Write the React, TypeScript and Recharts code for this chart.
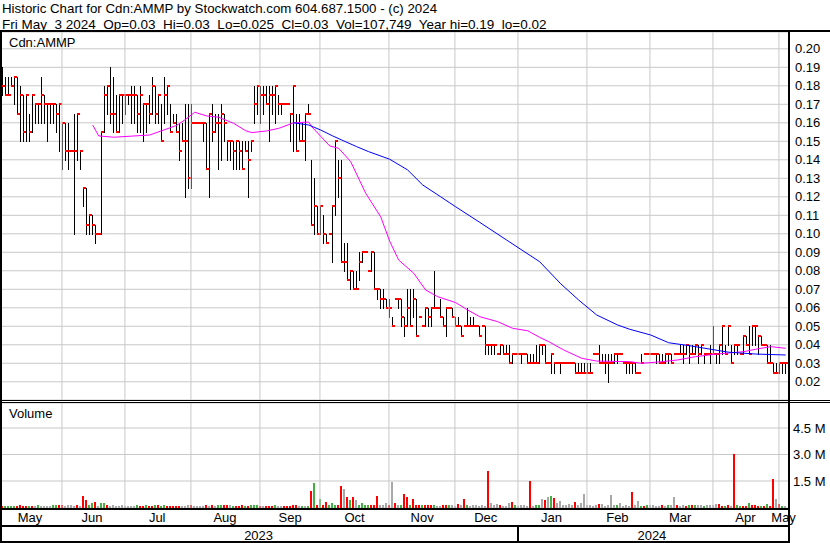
import React from 'react';
import { ComposedChart, Bar, Line, XAxis, YAxis, CartesianGrid, ReferenceLine } from 'recharts';

const FONT = '"Liberation Sans", Arial, Helvetica, sans-serif';

// Daily OHLC (prices in thousandths of a dollar), trading days from early May 2023 to May 3 2024
const high = [
  190,185,185,185,185,185,180,175,175,165, 175,170,170,185,175,170,170,170,170,170,
  160,160,160,145,165,165,145,125,125,110, 110,105,100,155,180,180,190,185,175,175,
  175,175,175,180,180,175,180,170,170,175, 185,180,175,170,185,180,170,165,165,160,
  160,170,170,170,160,160,160,160,160,165, 170,165,165,170,165,150,150,150,150,150,
  150,150,150,150,180,180,180,180,180,180, 180,180,175,170,170,170,165,180,165,165,
  160,165,170,140,130,115,115,110,100,100, 115,150,140,140,95,95,80,80,80,90,
  90,90,80,90,90,70,70,70,65,65, 55,65,65,65,55,70,70,70,65,55,
  50,60,60,60,80,60,65,55,60,60, 60,55,55,50,50,60,55,55,50,50,
  50,50,40,40,40,35,40,40,40,40, 35,35,35,35,35,35,35,35,40,40,
  40,40,30,35,30,30,30,30,30,30, 30,30,30,30,30,30,30,35,35,40,
  35,35,35,35,35,35,35,30,30,30, 30,30,25,35,35,35,35,35,35,35,
  35,35,35,35,35,35,40,40,40,40, 40,40,40,40,35,35,40,50,35,40,
  50,40,50,40,40,40,35,45,45,50, 50,50,45,45,40,40,40,30,30,30,
  30,30,
];
const low = [
  175,175,175,180,170,165,150,150,150,150, 155,160,160,160,160,150,160,160,155,145,
  135,140,135,145,100,140,135,115,100,100, 100,95,100,100,155,165,160,155,155,155,
  160,165,170,160,160,155,155,150,155,160, 165,160,160,150,160,165,155,160,155,140,
  150,120,125,125,160,160,160,150,135,120, 150,155,135,140,150,140,140,135,135,135,
  135,145,120,145,160,165,160,165,170,150, 165,160,165,165,170,170,150,145,145,150,
  150,140,165,105,100,100,100,95,95,100, 85,110,120,85,80,75,70,70,70,75,
  85,90,80,80,70,65,60,60,60,55, 50,65,60,50,45,50,50,55,45,55,
  50,50,50,50,60,60,55,50,45,60, 55,50,50,45,50,50,50,50,50,45,
  50,35,35,35,35,35,35,35,35,30, 30,35,35,30,35,30,30,30,30,30,
  35,30,30,25,25,30,25,30,30,30, 30,25,25,25,25,25,25,35,35,30,
  30,25,20,30,30,30,35,30,25,25, 25,25,25,30,35,35,35,35,30,30,
  30,30,30,30,35,35,35,30,35,30, 35,35,30,35,30,35,30,35,30,30,
  35,35,40,30,35,35,35,35,40,35, 40,40,35,40,40,30,30,25,25,25,
  25,25,
];
const close = [
  180,175,175,180,185,165,175,155,175,155, 175,170,170,175,170,170,170,170,165,170,
  160,145,145,145,145,165,145,125,105,110, 105,100,100,155,175,180,165,165,155,175,
  175,175,175,175,175,165,175,170,170,165, 180,165,175,150,175,180,155,160,155,145,
  150,150,130,160,160,160,160,160,135,165, 155,160,160,165,160,150,150,145,150,145,
  135,145,140,150,170,180,175,175,170,175, 175,180,170,170,170,170,165,180,145,150,
  150,165,165,105,115,100,115,100,95,100, 115,150,130,85,85,75,80,70,70,85,
  90,90,80,90,70,70,65,65,60,60, 50,65,65,55,50,60,50,65,45,55,
  50,60,55,60,60,60,55,50,60,60, 55,50,50,45,50,50,50,50,50,45,
  50,40,40,40,40,35,40,35,35,30, 35,35,35,35,35,30,30,30,30,40,
  40,30,30,35,30,30,30,30,30,30, 30,25,25,25,25,25,25,35,35,30,
  30,30,30,30,35,35,35,30,30,30, 30,25,25,30,35,35,35,35,35,30,
  30,35,35,30,35,35,35,35,40,35, 35,40,35,40,35,35,35,35,35,40,
  50,35,50,30,40,40,35,45,40,35, 50,50,45,40,40,30,30,25,25,30,
  30,30,
];

// Daily volume in thousands of shares
const volumeK = [
  100,100,100,100,100,100,170,100,100,100, 100,80,130,100,100,100,100,130,130,170,
  170,100,130,130,100,130,100,650,420,170, 230,310,100,230,230,130,100,170,100,100,
  170,100,100,100,100,130,100,100,130,100, 100,130,170,100,170,100,100,100,100,100,
  80,100,130,130,100,100,100,100,130,100, 130,100,170,130,130,170,130,100,100,100,
  130,100,100,130,130,130,100,80,100,100, 100,130,80,80,100,100,100,130,130,100,
  100,100,100,950,1400,170,500,170,310,170, 230,130,130,1220,1050,600,420,600,420,170,
  230,130,130,130,130,650,170,130,230,170, 1440,250,130,170,760,600,170,480,130,170,
  170,130,130,130,170,100,100,170,170,170, 130,100,200,170,480,170,100,130,170,100,
  130,100,2080,230,130,200,130,100,100,230, 310,170,100,170,170,100,1520,100,130,130,
  480,420,600,650,550,230,370,130,130,200, 130,310,130,280,760,130,130,100,130,200,
  200,100,130,700,170,130,230,100,130,100, 900,130,370,100,100,170,170,130,100,100,
  130,100,170,130,600,130,100,170,100,130, 130,130,130,130,100,130,130,170,200,200,
  100,100,170,100,3030,170,100,100,100,250, 130,130,100,100,100,200,100,1610,480,200,
  100,107.749,
];
// r = down day (red), g = up day (green), n = unchanged (grey)
const volumeDir =
  'rggggrrrrg' + 'rngnnnnggr' + 'rnnnnrnrrg' + 'grnggrnnnn' + 'nnnnngrrgr' +
  'rgrggrrrrr' + 'nnnrnnnnrn' + 'rnggrrngrr' + 'rgrgggrnrr' + 'rgnnrrrrrn' +
  'gngrgrgrrg' + 'ggrrnrgrng' + 'gggrrrnnnr' + 'nrngrrgrrr' + 'grrrgnnrrg' +
  'nnrnrgnnnn' + 'nnrnnnrnnn' + 'rgnnnnrngg' + 'nrngrnnnnn' + 'nrnnnnnnnr' +
  'nnnnngnnnn' + 'rnngrgnnnn' + 'rngnnrnnrg' + 'rgnngnnnnr' + 'rgrnrggrrg' +
  'rrrgrgrrnr' + 'gn';

// Moving averages (day index, value in thousandths)
const magentaDays = [30,32,37,49,53,58,61,64,68,72,77,81,83,88,92,97,102,103,109,112,116,121,126,129,132,137,141,145,151,155,159,165,170,175,179,182,187,193,198,209,213,220,225,231,238,247,251,256,261];
const magentaVals = [158.8,152.9,152.2,153.4,155.7,158.6,161.9,165.7,163.7,163.0,159.7,155.7,154.7,155.6,157.0,160.0,160.4,157.9,147.5,146.2,139.0,121.9,109.2,96.0,85.8,78.7,69.6,66.0,62.8,58.8,55.2,52.5,48.9,47.6,44.0,41.7,37.2,32.7,31.2,30.9,30.0,30.9,31.8,33.6,35.0,36.3,37.6,39.0,38.1];
const blueDays = [97,102,106,110,113,118,122,129,135,140,146,151,159,168,179,186,192,198,205,209,216,222,229,236,242,251,261];
const blueVals = [160.0,158.8,156.1,152.9,150.7,147.1,144.4,140.3,134.5,126.4,120.0,114.6,106.2,96.6,84.9,73.0,64.2,56.1,50.7,48.4,45.3,41.1,39.5,37.6,36.0,35.0,34.5];

// Axis ticks
const monthStarts = [20,41,63,86,106,129,151,172,195,216,237,259];
const monthLabels = ['May','Jun','Jul','Aug','Sep','Oct','Nov','Dec','Jan','Feb','Mar','Apr','May'];
const monthLabelPos = [9.1,29.8,51.5,74.1,95.8,117.3,139.8,161,182.9,204.9,225.8,247.6,260.3];
const yearLabels = ['2023','2024'];
const yearLabelPos = [85.3,216.4];
const yearBoundary = 171.8;
const priceTicks = [20,30,40,50,60,70,80,90,100,110,120,130,140,150,160,170,180,190,200];
const volumeTicks = [1500000,3000000,4500000];

const X_DOMAIN: [number, number] = [-0.9, 261.77];
const DIR_COLOR: Record<string, string> = { r: '#ff0000', g: '#44b044', n: '#a8a8a8' };
const GRID = '#c8c8c8';

const data = high.map((h, i) => {
  const mi = magentaDays.indexOf(i);
  const bi = blueDays.indexOf(i);
  return {
    day: i,
    range: [low[i], h],
    hi: h,
    lo: low[i],
    cl: close[i],
    vol: volumeK[i] * 1000,
    dir: volumeDir[i],
    maShort: mi >= 0 ? magentaVals[mi] : null,
    maLong: bi >= 0 ? blueVals[bi] : null,
  };
});

const OhlcShape = (props: any) => {
  const { x, y, width, height, payload } = props;
  if (!payload || x == null || !isFinite(x) || !isFinite(y)) return null;
  const cx = x + width / 2;
  const px = Math.floor(cx);
  const yTop = Math.min(y, y + height);
  const yBot = Math.max(y, y + height);
  const { hi, lo, cl } = payload;
  const yc = hi === lo ? yTop : yTop + ((hi - cl) / (hi - lo)) * (yBot - yTop);
  const t = Math.round(yTop);
  const b = Math.round(yBot);
  return (
    <g shapeRendering="crispEdges">
      {hi > lo && <rect x={px} y={t} width={1} height={Math.max(1, b - t + 1)} fill="#000" />}
      <rect x={px} y={Math.round(yc) - 1} width={3} height={2} fill="#ff0000" />
    </g>
  );
};

const VolShape = (props: any) => {
  const { x, y, width, height, payload } = props;
  if (!payload || x == null || !isFinite(x) || !isFinite(y)) return null;
  const cx = x + width / 2;
  const px = Math.floor(cx) - 1;
  const t = Math.round(Math.min(y, y + height));
  const b = Math.round(Math.max(y, y + height));
  return <rect x={px} y={t} width={2} height={Math.max(1, b - t)} fill={DIR_COLOR[payload.dir]} shapeRendering="crispEdges" />;
};

const YearTick = (props: any) => {
  const { x, y, payload } = props;
  const v = payload.value;
  if (v === yearBoundary) {
    return <rect x={Math.round(x) - 1} y={y - 6} width={2} height={17} fill="#000" />;
  }
  const idx = yearLabelPos.indexOf(v);
  return (
    <text x={x} y={y} dy="0.71em" textAnchor="middle" fontSize={13} fontFamily={FONT} fill="#000">
      {yearLabels[idx]}
    </text>
  );
};

const tickStyle = { fontSize: 13, fill: '#000', fontFamily: FONT };

export default function App() {
  return (
    <div style={{ position: 'absolute', left: 0, top: 0, width: 830, height: 543, background: '#fff', overflow: 'hidden' }}>
      <div style={{ position: 'absolute', left: 0, top: 0 }}>
        <ComposedChart width={830} height={402} data={data} margin={{ top: 32, right: 0, bottom: 2, left: 0 }}>
          <CartesianGrid vertical={false} stroke={GRID} />
          <XAxis dataKey="day" type="number" domain={X_DOMAIN} allowDataOverflow hide />
          <YAxis
            orientation="right"
            width={42}
            domain={[10.16, 209.08]}
            allowDataOverflow
            ticks={priceTicks}
            interval={0}
            tickFormatter={(v: number) => (v / 1000).toFixed(2)}
            axisLine={false}
            tickLine={false}
            tickSize={0}
            tickMargin={7}
            tick={tickStyle}
          />
          {monthStarts.map((m) => (
            <ReferenceLine key={m} x={m - 0.25} stroke={GRID} strokeWidth={1} />
          ))}
          <Bar dataKey="range" barSize={1} shape={OhlcShape} isAnimationActive={false} />
          <Line dataKey="maShort" type="linear" stroke="#ff00ff" strokeWidth={1} dot={false} activeDot={false} connectNulls isAnimationActive={false} />
          <Line dataKey="maLong" type="linear" stroke="#0000ff" strokeWidth={1} dot={false} activeDot={false} connectNulls isAnimationActive={false} />
        </ComposedChart>
      </div>
      <div style={{ position: 'absolute', left: 0, top: 400 }}>
        <ComposedChart width={830} height={143} data={data} margin={{ top: 3, right: 0, bottom: 2, left: 0 }}>
          <CartesianGrid vertical={false} stroke={GRID} />
          <XAxis
            dataKey="day"
            type="number"
            domain={X_DOMAIN}
            allowDataOverflow
            ticks={monthLabelPos}
            interval={0}
            tickFormatter={(v: number, i: number) => monthLabels[i]}
            height={17}
            axisLine={false}
            tickLine={false}
            tickSize={0}
            tickMargin={5}
            tick={tickStyle}
          />
          <XAxis
            xAxisId="year"
            dataKey="day"
            type="number"
            domain={X_DOMAIN}
            allowDataOverflow
            ticks={[yearLabelPos[0], yearBoundary, yearLabelPos[1]]}
            interval={0}
            height={16}
            axisLine={false}
            tickLine={false}
            tickSize={0}
            tickMargin={6}
            tick={(p: any) => <YearTick {...p} />}
          />
          <YAxis
            orientation="right"
            width={42}
            domain={[-28000, 5914000]}
            allowDataOverflow
            ticks={volumeTicks}
            interval={0}
            tickFormatter={(v: number) => (v / 1000000).toFixed(1) + ' M'}
            axisLine={false}
            tickLine={false}
            tickSize={0}
            tickMargin={5}
            tick={tickStyle}
          />
          {monthStarts.map((m) => (
            <ReferenceLine key={m} x={m - 0.25} stroke={GRID} strokeWidth={1} />
          ))}
          <Bar dataKey="vol" barSize={2} shape={VolShape} isAnimationActive={false} />
        </ComposedChart>
      </div>
      <svg width={830} height={543} style={{ position: 'absolute', left: 0, top: 0, pointerEvents: 'none' }}>
        <text x={2} y={13} fontSize={13.3} fontFamily={FONT} fill="#000" style={{ whiteSpace: 'pre' }}>
          Historic Chart for Cdn:AMMP by Stockwatch.com 604.687.1500 - (c) 2024
        </text>
        <text x={2} y={28.5} fontSize={13.5} fontFamily={FONT} fill="#000" style={{ whiteSpace: 'pre' }}>
          {'Fri May  3 2024  Op=0.03  Hi=0.03  Lo=0.025  Cl=0.03  Vol=107,749  Year hi=0.19  lo=0.02'}
        </text>
        <text x={9} y={46.5} fontSize={13} fontFamily={FONT} fill="#000">Cdn:AMMP</text>
        <text x={9} y={417.5} fontSize={13} fontFamily={FONT} fill="#000">Volume</text>
        <g shapeRendering="crispEdges" fill="#000">
          <rect x={0} y={30} width={830} height={2} />
          <rect x={0} y={30} width={2} height={513} />
          <rect x={788} y={30} width={2} height={513} />
          <rect x={0} y={400} width={830} height={1} />
          <rect x={0} y={402} width={830} height={1} />
          <rect x={0} y={508} width={790} height={2} />
          <rect x={0} y={525} width={790} height={2} />
          <rect x={0} y={541} width={790} height={2} />
        </g>
      </svg>
    </div>
  );
}
